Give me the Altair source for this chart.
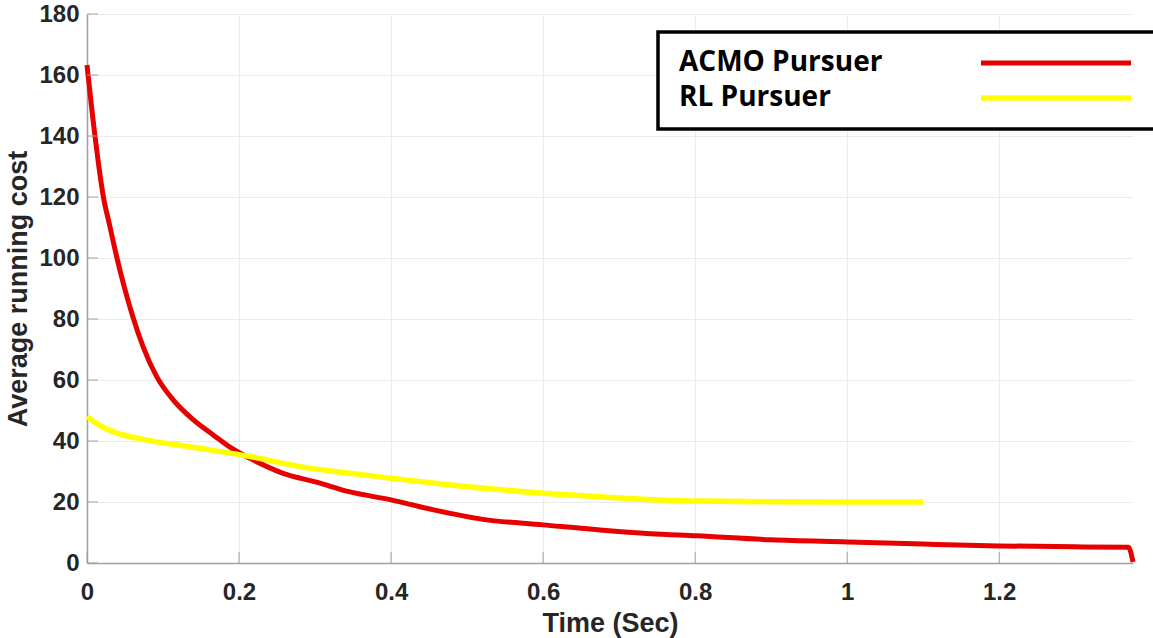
import altair as alt
import pandas as pd

# ---- data ----
acmo_t = [0, 0.0105, 0.0215, 0.030, 0.038, 0.060, 0.074, 0.0917, 0.1136, 0.140, 0.166, 0.188,
          0.2145, 0.258, 0.302, 0.346, 0.4, 0.456, 0.521, 0.6, 0.675, 0.741, 0.802,
          0.9, 1.0, 1.1, 1.2, 1.3, 1.37, 1.376]
acmo_v = [163.3, 140.0, 120.1, 110.5, 101.5, 81.0, 70.8, 61.1, 53.4, 46.9, 42.0, 38.0,
          34.3, 29.4, 26.5, 23.3, 20.7, 17.4, 14.3, 12.5, 10.8, 9.6, 8.9,
          7.6, 6.9, 6.2, 5.6, 5.3, 5.2, 0.3]

rl_t = [0, 0.015, 0.035, 0.0785, 0.1355, 0.2145, 0.280, 0.346, 0.4, 0.478,
        0.6, 0.675, 0.802, 0.9, 1.0, 1.1]
rl_v = [48.0, 45.4, 43.0, 40.3, 38.1, 34.9, 31.6, 29.4, 27.8, 25.6,
        22.9, 21.7, 20.3, 20.1, 20.0, 20.0]

series_names = ["ACMO Pursuer", "RL Pursuer"]
series_colors = ["#e60000", "#ffff00"]

x_ticks = [0, 0.2, 0.4, 0.6, 0.8, 1.0, 1.2]
y_ticks = [0, 20, 40, 60, 80, 100, 120, 140, 160, 180]

df = pd.concat([
    pd.DataFrame({"t": acmo_t, "v": acmo_v, "series": series_names[0], "o": range(len(acmo_t))}),
    pd.DataFrame({"t": rl_t, "v": rl_v, "series": series_names[1], "o": range(len(rl_t))}),
])

W, H = 1046, 549
AX = "#a0a0a0"

xscale = alt.Scale(domain=[0, 1.376], nice=False, zero=False)
yscale = alt.Scale(domain=[0, 180], nice=False)


def X():
    return alt.X("t:Q", scale=xscale, title="Time (Sec)",
                 axis=alt.Axis(values=x_ticks, format="~g"))


def Y():
    return alt.Y("v:Q", scale=yscale, title="Average running cost",
                 axis=alt.Axis(values=y_ticks))


lines = alt.Chart(df).mark_line(interpolate="monotone", strokeCap="butt").encode(
    x=X(), y=Y(),
    order="o:Q",
    color=alt.Color("series:N",
                    scale=alt.Scale(domain=series_names, range=series_colors),
                    legend=alt.Legend(
                        orient="none", legendX=571, legendY=18, title=None,
                        symbolType="M-15,0H15", symbolSize=100, symbolStrokeWidth=4,
                        labelOffset={"expr": "-391"}, symbolOffset=367,
                        padding=17, strokeColor="black", fillColor="white",
                        labelFont="Open Sans", labelFontSize=28, labelFontWeight="bold",
                        labelColor="black", labelLimit=400)),
    strokeWidth=alt.StrokeWidth("series:N",
                                scale=alt.Scale(domain=series_names, range=[5, 5.5]),
                                legend=None),
)

yt = alt.Chart(pd.DataFrame({"v": y_ticks})).mark_rule(color=AX, strokeWidth=1).encode(
    y=Y(), x=alt.value(0), x2=alt.value(11),
)
xt = alt.Chart(pd.DataFrame({"t": x_ticks})).mark_rule(color=AX, strokeWidth=1).encode(
    x=X(), y=alt.value(H), y2=alt.value(H - 11),
)

chart = alt.layer(lines, yt, xt).properties(
    width=W, height=H,
    autosize=alt.AutoSizeParams(type="none"),
    padding={"left": 87, "top": 14, "right": 20, "bottom": 75},
    background="white",
).configure_view(stroke=None).configure_axis(
    labelFont="Liberation Sans", labelFontSize=24, labelFontWeight="bold", labelColor="#262626",
    titleFont="Liberation Sans", titleFontSize=27, titleFontWeight="bold", titleColor="#262626",
    domainColor=AX, domainWidth=1.5, tickSize=0, labelFlush=False,
    gridColor="#ebebeb", gridWidth=1,
).configure_axisX(labelPadding=17, titlePadding=6).configure_axisY(
    labelPadding=8, titlePadding=6
).configure_legend(strokeWidth=3.5, rowPadding=7)

chart.save("out.html", embed_options={"renderer": "svg", "actions": False})
